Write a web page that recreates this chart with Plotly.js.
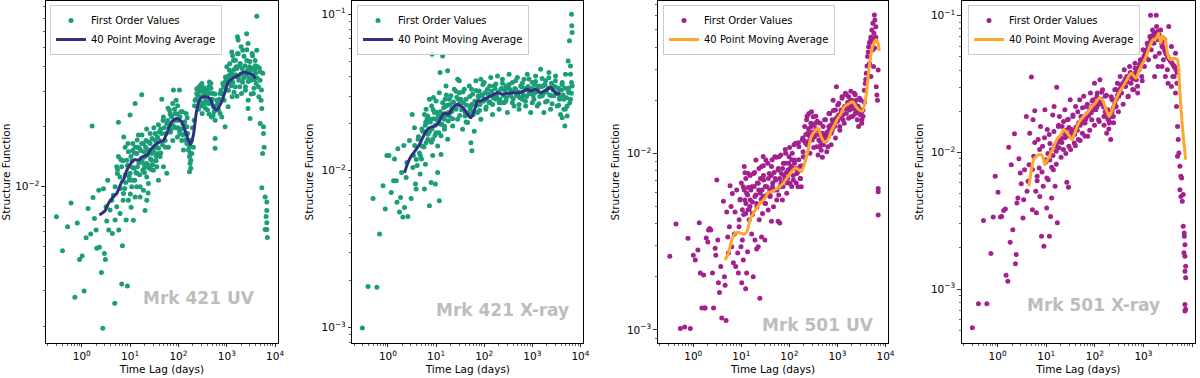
<!DOCTYPE html>
<html>
<head>
<meta charset="utf-8">
<script src="https://cdn.plot.ly/plotly-3.0.1.min.js"></script>
<style>
  html, body { margin: 0; padding: 0; background: #fff; }
  #chart { width: 1200px; height: 378px; }
</style>
</head>
<body>
<div id="chart"></div>
<script>
// ---- Mrk 421 UV ----
const lag421uv = [
  0.30,0.40,0.51,0.60,0.72,0.81,0.90,1.02,1.12,1.23,1.35,1.53,1.64,1.71,1.83,1.98,2.04,2.25,2.32,2.55,
  2.72,2.81,2.94,3.09,3.19,3.29,3.45,3.62,3.86,4.18,4.31,4.52,4.82,4.9,5.3,5.47,5.74,5.83,6.21,6.41,
  6.72,6.94,7.17,7.4,7.76,8.26,8.81,9.24,9.69,10,10.5,11,11.7,12.7,12.7,13.7,14.9,16.1,17.4,18.9,
  20.4,22.1,23.6,25.9,27.9,30.4,35.5,38.6,45.2,49,57.4,67.3,78.8,105,123,149,169,180,204,239,
  304,437,468,574,574,728,924,1000,1268,1660,1720,2570,2750,2750,3030,4170,4170,3850,4520,4900,
  5130,5300,4900,5740,5740,5920,5500,5300,6210,6730,6730,6500,6730,6210,6730,6900,
  4.9,5.3,5.74,6.2,6.7,7.3,7.9,8.5,9.2,10,10.8,11.4,11.7,12.1,12.7,13.7,14.2,15.6,16.1,17.4,
  18.3,19.5,20.4,21.4,22.1,23.9,25.1,25.9,28.1,29.4,31.4,32.9,34.5,35.6,36.8,38.6,40.4,41.8,
  13.7,16.1,18.9,22.1,23.9,
  45.2,49,53,57.4,62.1,65.2,69.3,72.8,76.4,81.3,85.3,89.5,95.3,100,105,112,117,123,127,137,144,149,
  161,169,174,180,189,169,
  211,221,239,259,272,290,309,329,351,373,398,424,452,482,513,530,574,621,673,728,
  788,826,881,938,1000,1066,1135,1210,1289,1374,1374,
  1487,1560,1663,1771,1888,2011,2143,2284,2434,2594,2764,2945,3138,3344,3565,3795,4045,4310,4592,4893,5214,5556
];
const sf421uv = [
  0.00708,0.00477,0.0063,0.0083,0.00279,0.00659,0.00432,0.00449,0.0030,0.00555,0.00779,0.0058,0.0202,0.00884,0.00693,0.00607,0.00491,0.00962,0.00497,0.00371,
  0.00195,0.00977,0.00463,0.00432,0.00794,0.00673,0.0108,0.00607,0.00764,0.00857,0.00583,0.00908,0.0026,0.00681,0.00794,0.01166,0.0211,0.00607,0.00734,0.0137,
  0.00325,0.00506,0.00857,0.0178,0.00981,0.00681,0.00318,0.015,0.0108,0.0229,0.0079,0.0135,0.0068,0.0262,0.0089,0.0117,0.0182,0.01,0.029,0.0131,
  0.0076,0.0112,0.0093,0.0185,0.0136,0.0121,0.0147,0.0108,0.0275,0.0126,0.0117,0.0233,0.0306,0.0306,0.0182,0.02,0.0119,0.0136,0.0158,0.0311,
  0.033,0.0336,0.033,0.0175,0.0156,0.0233,0.02,0.04,0.0475,0.0566,0.0545,0.0587,0.0524,0.0247,0.022,0.0718,0.0485,0.0431,0.0318,0.0378,
  0.0272,0.0247,0.0208,0.02,0.0185,0.0158,0.0147,0.0099,0.0089,0.0084,0.0076,0.0071,0.0066,0.0061,0.0061,0.00557,
  0.01,0.0126,0.0142,0.0112,0.0126,0.00926,0.0158,0.0136,0.00857,0.0117,0.01,0.0165,0.0108,0.0124,0.0158,0.0147,0.0126,0.0156,0.0136,0.0165,
  0.0121,0.015,0.0142,0.0171,0.0131,0.0153,0.0124,0.0165,0.0147,0.0129,0.0158,0.0171,0.0142,0.0126,0.0178,0.0156,0.0189,0.0142,
  0.01,0.0089,0.0096,0.00857,0.0104,
  0.0185,0.0224,0.0171,0.0208,0.0158,0.0243,0.0192,0.0224,0.0171,0.02,0.0233,0.0272,0.0178,0.0216,0.0192,0.0238,0.0171,0.0208,0.0153,0.0185,0.0233,0.0165,
  0.0153,0.0142,0.0131,0.0124,0.0147,0.0158,
  0.0216,0.0272,0.0294,0.0252,0.0318,0.0283,0.0233,0.0306,0.0262,0.0294,0.0243,0.0318,0.0272,0.0224,0.0294,0.0252,0.0216,0.0272,0.0243,0.0294,
  0.0224,0.033,0.0272,0.0356,0.0306,0.0252,0.0385,0.033,0.0283,0.0431,0.0356,
  0.0318,0.04,0.0467,0.0343,0.0416,0.0294,0.0485,0.0371,0.0318,0.0431,0.0272,0.04,0.0343,0.0467,0.0294,0.0385,0.033,0.04,0.0283,0.0343,0.0306,0.0371
];
// denser core of the Mrk 421 UV band
const lag421uvCore = [
  8,8.8,9.6,10.4,11.2,12.2,13.2,14.4,15.2,16.6,18,19,20,21,23,24.5,26.5,28.5,30,33,
  36,39,43,47,51,55,60,64,70,75,83,88,93,98,108,115,130,140,155,165,
  175,185,195,215,230,250,265,285,300,320,340,365,390,415,440,470,500,550,600,650,
  700,760,810,860,910,970,1030,1100,1180,1250,1330,1420,1520,1620,1720,1830,1950,2080,2220,2370,
  2520,2680,2850,3050,3250,3450,3700,3950,4250,4700,
  5.5,6.3,7.1,8.1,9.0,10.1,11.3,12.5,14,15.8,17.6,19.8,22,24.6,27.5,31,34.5,38.5,43,48,
  54,61,68,76,86,96,108,121,135,152,
  1080,1150,1230,1320,1410,1510,1620,1730,1850,1980,2120,2270,2430,2600,2780,2980,3190,3410,3650,3910,
  260,280,300,330,360,395,430,470,520,570
];
const sf421uvCore = [
  0.0115,0.0128,0.0112,0.0142,0.0125,0.0148,0.0118,0.0158,0.0132,0.0152,0.0138,0.0165,0.0125,0.0158,0.0145,0.0168,0.0138,0.0175,0.0152,0.0185,
  0.0158,0.0172,0.0195,0.0162,0.0198,0.0185,0.0215,0.0198,0.0228,0.0205,0.0245,0.0215,0.0232,0.0198,0.0225,0.0195,0.0205,0.0172,0.0185,0.0162,
  0.0148,0.0172,0.0198,0.0255,0.0275,0.0288,0.0268,0.0302,0.0265,0.0285,0.0298,0.027,0.0285,0.0262,0.0295,0.0262,0.0275,0.0238,0.0255,0.0262,
  0.0275,0.0305,0.0292,0.0318,0.0335,0.0345,0.0332,0.0362,0.0345,0.0372,0.0335,0.0388,0.0365,0.0392,0.0355,0.0405,0.0368,0.0392,0.0352,0.0405,
  0.0365,0.0385,0.0352,0.0378,0.0395,0.0362,0.0345,0.0372,0.0352,0.0395,
  0.0122,0.0098,0.0135,0.0105,0.0165,0.0092,0.0152,0.0108,0.0172,0.0115,0.0182,0.0118,0.0195,0.0128,0.0122,0.0198,0.0135,0.0205,0.0148,0.0215,
  0.0158,0.0248,0.0188,0.0262,0.0198,0.0255,0.0185,0.0238,0.0212,0.0222,
  0.0305,0.0415,0.0322,0.0455,0.0298,0.0432,0.0285,0.0465,0.0318,0.0505,0.0335,0.0452,0.0305,0.0488,0.0338,0.0425,0.0292,0.0455,0.0312,0.0405,
  0.0245,0.0322,0.0255,0.0315,0.0248,0.0308,0.0232,0.0312,0.0228,0.0292
];
const maLag421uv = [2.32,3.04,3.56,4.52,5.3,6.72,7.51,8.53,10.8,12.7,14.9,17.4,22.1,28.1,35.6,41.8,49,57.4,72.8,92.4,
  117,137,161,180,204,239,281,356,452,530,621,728,853,1082,1374,1742,2213,2805,3565,3855];
const ma421uv = [0.00721,0.00758,0.00825,0.00891,0.00927,0.0106,0.011,0.0121,0.0133,0.0137,0.0136,0.0141,0.0144,0.0156,0.0165,0.0168,0.0171,0.0185,0.0212,0.022,
  0.0212,0.0192,0.0171,0.0163,0.0182,0.0243,0.0277,0.0283,0.0277,0.0252,0.0243,0.0257,0.0283,0.0336,0.0353,0.0363,0.0377,0.0371,0.0363,0.0349];

// ---- Mrk 421 X-ray ----
const lag421x = [
  0.294,0.386,0.59,0.49,0.67,0.79,0.88,0.95,1.05,1.17,1.31,1.37,1.49,1.54,1.61,1.74,1.83,1.92,2.04,2.14,
  2.21,2.39,2.47,2.59,2.81,3.04,3.19,3.4,3.56,3.73,3.86,4.05,4.24,4.52,4.67,4.97,5.3,5.74,6.01,6.21,
  6.72,7.28,7.88,8.26,8.53,8.81,9.69,10,10.8,11.4,11.7,12.1,12.7,13.7,14.9,16.1,17.4,18.9,28.1,30.4,
  53,55.6,85.3,4180,4740,5560,5920,6210,6510,6600,6730,6210,6510,
  5.74,6.21,6.72,7.28,7.88,8.53,9.24,10,10.8,11.7,12.7,13.7,14.9,16.1,17.4,18.9,20.4,22.1,23.9,25.9,
  28.1,30.4,32.9,35.6,38.6,41.8,45.2,49,53,57.4,62.1,67.3,72.8,78.8,85.3,92.4,
  100,108,117,127,137,149,161,174,189,204,221,239,259,281,304,329,356,386,418,452,490,530,574,621,
  673,728,788,853,924,1000,1082,1172,1268,1374,1487,1610,1742,1888,2042,2213,2394,2594,2805,3040,
  3290,3565,3855,4180,4520,4900,5300,5740,6210,6730,5300,4520,
  103,154,228,339,505,752,1114,1660,2470,3680,75,55,40,29,21,15.4,11.1,8.1,6.5,5.1
];
const sf421x = [
  0.00099,0.00182,0.0018,0.00665,0.00394,0.00802,0.00569,0.0125,0.0125,0.00727,0.00863,0.0119,0.00863,0.0063,0.0138,0.00545,0.00675,0.00976,0.00506,0.0145,
  0.00582,0.00906,0.0113,0.0051,0.0156,0.00665,0.0229,0.0125,0.0188,0.00822,0.00764,0.0108,0.0159,0.013,0.00953,0.0119,0.0179,0.00764,0.011,0.0151,
  0.0224,0.00597,0.00842,0.0555,0.0125,0.0293,0.00822,0.0175,0.00976,0.0235,0.00643,0.0424,0.0127,0.0541,0.0184,0.0259,0.0435,0.0286,0.0384,0.0375,
  0.0151,0.0134,0.0384,0.0218,0.0193,0.0502,0.0675,0.0467,0.1,0.0842,0.0764,0.0413,0.0366,
  0.0229,0.0247,0.0171,0.0286,0.0213,0.0159,0.0235,0.0279,0.0144,0.0315,0.0167,0.0272,0.0213,0.0348,0.0159,0.0224,0.0301,0.0193,0.0331,0.0247,
  0.0213,0.0315,0.0286,0.0184,0.0331,0.0286,0.0203,0.0348,0.0259,0.0308,0.0179,0.0375,0.0235,0.0323,0.0213,0.0301,
  0.0366,0.0247,0.0331,0.0272,0.0394,0.0229,0.0348,0.0286,0.0403,0.0247,0.0331,0.0384,0.0272,0.0348,0.0235,0.0413,0.0301,0.0366,0.0259,0.0331,0.0394,0.0247,0.0348,0.0286,
  0.0384,0.0259,0.0413,0.0315,0.0235,0.0366,0.0286,0.0403,0.0259,0.0348,0.0445,0.0301,0.0235,0.0375,0.0279,0.0424,0.0247,0.0348,0.0301,0.0403,
  0.0259,0.0331,0.0229,0.0366,0.0286,0.0413,0.0259,0.0315,0.0286,0.0348,0.0224,0.0247,
  0.0286,0.0301,0.0272,0.0331,0.0301,0.0331,0.0315,0.0348,0.0301,0.0286,0.0301,0.0331,0.0224,0.0286,0.0247,0.0286,0.0224,0.0259,0.0203,0.0144
];
const lag421xCore = [
  6,6.5,7,7.6,8.2,9,9.6,10.4,11.2,12.2,13.2,14.4,15.5,16.8,18,19.6,21,23,24.8,27,
  29,31.5,34,37,40,43,47,51,55,59,64,70,76,82,89,96,104,112,122,132,
  143,155,168,182,196,212,230,248,268,290,315,340,370,400,435,470,510,550,600,650,
  700,760,820,890,960,1040,1120,1220,1320,1430,1550,1680,1820,1970,2130,2310,2500,2700,2930,3170,
  3430,3720,4030,4370,4730,5120,5550,6000,6500,
  3.3,3.6,3.9,4.3,4.7,5.1,5.6,6.1,6.7,7.3,8,8.7,9.5,10.4,11.4,12.5,13.7,15,16.4,18,
  22,26,31,36,42,50,58,68,80,94,110,130,150,175,205,240,280,330,385,450,
  530,620,720,850,1000,1170,1370,1600,1880,2200,2580,3020,3540,4150,4860,5700
];
const sf421xCore = [
  0.0195,0.0215,0.0175,0.0205,0.0185,0.0215,0.0195,0.0235,0.0205,0.0238,0.0198,0.0252,0.0225,0.0262,0.0235,0.0265,0.0238,0.0275,0.0252,0.0295,
  0.0262,0.0278,0.0245,0.0272,0.0238,0.0262,0.0232,0.0248,0.0265,0.0228,0.0278,0.0262,0.0295,0.0265,0.0305,0.0278,0.0315,0.0285,0.0308,0.0275,
  0.0322,0.0292,0.0335,0.0298,0.0318,0.0285,0.0335,0.0302,0.0325,0.0292,0.0338,0.0305,0.0322,0.0288,0.0335,0.0302,0.0318,0.0292,0.0342,0.0305,
  0.0335,0.0298,0.0345,0.031,0.0335,0.0302,0.0352,0.0318,0.0335,0.0298,0.0345,0.031,0.0355,0.0318,0.0338,0.0305,0.0362,0.0328,0.0345,0.0312,
  0.0338,0.0295,0.0328,0.0305,0.0338,0.0292,0.0325,0.0272,0.0312,
  0.0105,0.0145,0.0118,0.0165,0.0125,0.0185,0.0142,0.0205,0.0158,0.0178,0.0152,0.0245,0.0168,0.0212,0.0175,0.0198,0.0228,0.0192,0.0305,0.0208,
  0.0215,0.0322,0.0225,0.0318,0.0205,0.0298,0.0238,0.0325,0.0242,0.0355,0.0255,0.0348,0.0265,0.0358,0.0272,0.0362,0.0278,0.0355,0.0272,0.0375,
  0.0265,0.0362,0.0278,0.0385,0.0272,0.0372,0.0268,0.0388,0.0275,0.0392,0.0268,0.0375,0.0262,0.0355,0.0248,0.0338
];
const maLag421x = [2.21,2.59,3.04,3.86,4.52,5.3,6.21,7.28,9.24,10.8,12.7,14.9,17.4,20.4,23.9,28.1,32.9,38.6,45.2,53,
  62.1,72.8,85.3,108,137,161,189,239,304,386,530,673,788,924,1172,1487,1742,2042,2394,2805,3290,3855];
const ma421x = [0.0097,0.0112,0.0124,0.0137,0.0147,0.0163,0.0179,0.0188,0.0193,0.0198,0.0218,0.0235,0.0229,0.0241,0.0259,0.0266,0.0259,0.0247,0.0229,0.0218,
  0.0241,0.0279,0.0279,0.0289,0.0301,0.0308,0.0315,0.0308,0.0312,0.0315,0.0315,0.0323,0.0331,0.0323,0.0331,0.0315,0.0323,0.0331,0.034,0.0323,0.0308,0.0315];

// ---- Mrk 501 UV ----
const lag501uv = [
  0.324,0.438,0.776,0.538,0.662,0.867,1.0,1.1,1.25,1.33,1.4,1.51,1.64,1.72,1.77,1.86,2.01,2.08,2.18,2.32,
  2.51,2.64,2.85,2.94,3.09,3.24,3.34,3.51,3.73,3.92,4.24,4.45,4.59,4.82,4.97,5.21,5.38,5.65,5.83,6.11,
  6.31,6.51,6.83,7.17,7.39,7.64,8.0,8.4,8.67,8.95,9.38,9.84,10.2,10.5,11,11.5,11.9,12.3,12.9,13.5,
  14,15.1,16.4,17.7,19.2,20.8,22.5,24.3,26.4,28.5,28.5,30.9,42.4,58.3,63.1,7050,7050,7050,
  11.0,11.9,12.3,12.9,14.0,14.6,15.4,16.4,17.1,18.0,19.2,20.1,21.1,22.5,23.6,24.7,26.4,27.6,29.0,30.9,
  32.4,34.0,36.2,37.9,39.8,42.4,44.5,46.7,49.7,52.1,54.7,58.3,61.1,64.1,68.3,71.6,75.2,80.0,84.0,88.1,93.8,98.4,103,110,
  115,121,129,135,142,151,158,166,177,186,195,208,218,228,243,255,268,285,299,314,334,351,368,392,
  411,431,459,482,505,538,565,592,631,662,694,740,776,813,867,910,953,1016,1066,1117,1191,1250,1310,1396,
  1466,1535,1637,1714,1799,1919,2011,2109,2249,2355,2472,2636,2761,2897,3090,3236,3396,3622,3793,3981,
  4246,4446,4667,4977,5212,5470,5741,6012,6310,5880,5383,5649,4977,6412,6622,6823,7047
];
const sf501uv = [
  0.00261,0.00398,0.00331,0.00102,0.00104,0.00102,0.00265,0.00249,0.00284,0.00405,0.0021,0.00133,0.00205,0.00133,0.00133,0.00332,0.00315,0.00368,0.00375,0.00368,
  0.0021,0.00133,0.0029,0.00265,0.00706,0.00323,0.00185,0.00163,0.00229,0.00117,0.00535,0.002,0.00179,0.00113,0.00466,0.00336,0.00273,0.00384,0.00656,0.005,
  0.00296,0.00593,0.0024,0.00349,0.00466,0.00229,0.0062,0.00273,0.0021,0.00384,0.00544,0.00296,0.00185,0.00323,0.00249,0.00841,0.00776,0.00171,0.0021,0.00277,
  0.0064,0.005,0.00349,0.002,0.00323,0.00287,0.00296,0.00151,0.00336,0.0096,0.00569,0.00323,0.00412,0.00412,0.00403,0.00633,0.00606,0.00448,
  0.00647,0.00544,0.00457,0.00594,0.0077,0.0042,0.00544,0.00647,0.00457,0.0077,0.00569,0.00917,0.00499,0.00676,0.0042,0.00594,0.00841,0.00457,0.00706,0.00521,
  0.00917,0.00647,0.00478,0.0077,0.00569,0.00841,0.00647,0.00499,0.00957,0.00706,0.00544,0.00805,0.00957,0.00647,0.0077,0.00544,0.00878,0.00706,0.01,0.00594,0.00805,0.00957,0.00676,0.00841,
  0.01,0.00706,0.00917,0.0114,0.0077,0.00647,0.0109,0.00841,0.00647,0.0119,0.00957,0.0142,0.0114,0.0155,0.013,0.0168,0.01,0.0142,0.0119,0.0161,0.0124,0.0148,0.0109,0.0136,
  0.0119,0.0109,0.0104,0.013,0.0142,0.0119,0.0155,0.013,0.0109,0.0142,0.0168,0.013,0.0155,0.02,0.0142,0.0176,0.0238,0.0161,0.0192,0.0142,0.0176,0.0209,0.0155,0.0184,
  0.0219,0.0168,0.0192,0.0209,0.0176,0.0161,0.02,0.0184,0.0219,0.0168,0.02,0.0184,0.0142,0.0168,0.02,0.0155,0.0176,0.0228,0.0249,0.0284,
  0.0353,0.0402,0.0323,0.0438,0.0499,0.0545,0.0478,0.0569,0.0521,0.0607,0.0385,0.031,0.0272,0.0238,0.0214,0.02,0.0296
];
const lag501uvCore = [
  9.5,10.5,11.5,12.5,13.5,14.5,15.8,17,18.5,20,21.5,23,25,27,29,31.5,34,36.5,39,42,
  45,48,51,55,59,63,67,72,77,82,87,92,97,104,112,120,128,137,147,157,
  168,180,192,205,220,235,250,265,280,300,320,340,360,380,405,430,455,480,510,540,
  575,610,650,690,735,780,830,880,940,1000,1060,1130,1200,1280,1360,1450,1540,1640,1740,1850,
  1970,2100,2230,2370,2520,2680,2850,3030,3220,3420,3640,3880,4120,4380,4650,4950,5260,5600,5950,6300,
  9,10,11.2,12.4,13.8,15.3,17,18.9,21,23.3,25.9,28.8,32,35.5,39.4,43.8,48.6,54,60,66.6,
  74,82,91,101,112,125,139,154,171,190,211,234,260,289,321,356,395,439,487,541,
  600,667,740,822,912,1013,1125,1249,1387,1540,1710,1899,2108,2341,2600,2887,3206
];
const sf501uvCore = [
  0.0055,0.0048,0.0062,0.0052,0.0058,0.0048,0.0062,0.0053,0.0065,0.0058,0.0068,0.0062,0.0072,0.0062,0.0075,0.0065,0.0058,0.0072,0.0062,0.0075,
  0.0068,0.0078,0.0072,0.0062,0.0082,0.0072,0.0068,0.0082,0.0075,0.0088,0.0078,0.0072,0.0088,0.0082,0.0092,0.0075,0.0088,0.0082,0.0078,0.0092,
  0.0072,0.0085,0.0102,0.0118,0.0128,0.0112,0.0138,0.0125,0.0148,0.0132,0.0145,0.0128,0.0138,0.0152,0.0128,0.0118,0.0112,0.0122,0.0112,0.0125,
  0.0118,0.0132,0.0125,0.0138,0.0145,0.0135,0.0152,0.0148,0.0158,0.0152,0.0165,0.0158,0.0172,0.0165,0.0178,0.0185,0.0178,0.0195,0.0185,0.0198,
  0.0188,0.0195,0.0178,0.0188,0.0172,0.0185,0.0178,0.0165,0.0172,0.0162,0.0195,0.0262,0.0312,0.0375,0.0425,0.0455,0.0425,0.0448,0.0395,0.0455,
  0.0042,0.0068,0.0045,0.0072,0.0048,0.0075,0.0045,0.0078,0.0052,0.0082,0.0055,0.0085,0.0052,0.0088,0.0058,0.0092,0.0062,0.0095,0.0058,0.0098,
  0.0065,0.0105,0.0068,0.0108,0.0065,0.0112,0.0068,0.0115,0.0072,0.0122,0.0095,0.0162,0.0118,0.0172,0.0108,0.0162,0.0098,0.0148,0.0095,0.0155,
  0.0102,0.0168,0.0112,0.0175,0.0122,0.0188,0.0135,0.0205,0.0148,0.0215,0.0158,0.0225,0.0162,0.0215,0.0155,0.0205,0.0148
];
const maLag501uv = [4.59,5.38,6.31,7.39,8.67,10.2,11.9,13.5,15.1,17.7,20.8,24.3,30.9,36.2,42.4,49.7,63.1,73.9,93.8,119,
  140,177,208,243,285,334,392,459,538,631,740,867,1016,1191,1396,1771,2076,2434,2851,3342,3917,4592,5383,6310,7050,7400];
const ma501uv = [0.00249,0.00272,0.00323,0.00352,0.00356,0.00352,0.00349,0.00368,0.0042,0.00457,0.00489,0.00521,0.00556,0.00598,0.00607,0.0062,0.00647,0.00676,0.00738,0.00805,
  0.00823,0.00787,0.00878,0.0104,0.0124,0.0133,0.0139,0.0124,0.0116,0.0119,0.0133,0.0145,0.0158,0.0168,0.0184,0.0192,0.0196,0.0184,0.0176,0.0174,0.0209,0.031,0.0402,0.0438,0.042,0.038];

// ---- Mrk 501 X-ray ----
const lag501x = [
  0.302,0.402,0.6,0.511,0.726,0.81,0.89,1.02,1.14,1.21,1.33,1.44,1.49,1.62,1.69,1.81,1.9,2.05,2.22,2.33,
  2.41,2.49,2.61,2.74,2.92,3.06,3.32,3.43,3.59,3.89,4.02,4.22,4.43,4.57,4.95,5.19,5.36,5.53,5.81,6.09,
  6.29,6.5,6.81,7.15,7.38,7.62,8.0,8.39,8.66,8.94,9.38,9.84,10.2,10.5,11,11.6,11.9,12.3,12.9,13.6,
  14,14.5,15.2,15.9,16.4,16.9,17.8,26.5,28.7,
  4285,4570,4790,5025,5190,5360,5025,5620,5900,6090,5620,5900,6290,6590,6590,6920,6920,7140,6810,7140,
  7380,7140,7380,7140,7380,7140,
  18.7,19.9,21.2,22.6,24.1,25.7,27.4,29.2,31.1,33.2,35.4,37.7,40.2,42.9,45.7,48.7,51.9,55.3,59.0,62.9,67.0,71.5,76.2,81.2,
  86.6,92.3,98.4,105,112,119,127,136,144,154,164,175,187,199,212,226,241,257,274,292,311,332,354,377,402,
  429,457,487,519,553,590,629,670,714,762,812,866,923,984,1049,1118,1192,1271,1355,1444,1540,1641,1750,1866,1989,2120,2260,2409,
  2568,2738,2918,3111,3316,3536,3770,4019,4285,4568,4870,3770,3213,2827,2409,1989,1695,1400,1836
];
const sf501x = [
  0.00052,0.00078,0.00078,0.00317,0.00182,0.00337,0.00668,0.0051,0.00337,0.0034,0.00376,0.00385,0.00126,0.00114,0.0109,0.0022,0.00813,0.00272,0.0137,0.00153,
  0.00179,0.00427,0.00464,0.00899,0.00706,0.0059,0.00331,0.00451,0.00747,0.0183,0.00519,0.00614,0.00813,0.0138,0.0356,0.00381,0.0173,0.00935,0.0202,0.00519,
  0.00361,0.00668,0.0124,0.00769,0.00476,0.0155,0.00243,0.0111,0.00565,0.00206,0.0205,0.00884,0.00392,0.0147,0.00631,0.00243,0.0116,0.0034,0.00464,0.0188,
  0.00747,0.0217,0.00565,0.0111,0.03,0.00305,0.0155,0.00604,0.00555,
  0.0359,0.0272,0.0217,0.0155,0.0124,0.0099,0.00935,0.0079,0.00668,0.0065,0.00533,0.00476,0.00438,0.00491,0.00288,0.00257,0.00243,0.00211,0.00184,0.00174,
  0.00147,0.00135,0.00121,0.00077,0.00071,0.00069,
  0.0183,0.0124,0.0155,0.0105,0.0205,0.0131,0.0173,0.0111,0.0243,0.0147,0.0183,0.0117,0.0217,0.0155,0.0124,0.0243,0.0183,0.0138,0.0257,0.0164,0.0217,0.0131,0.0194,0.0272,
  0.0173,0.0243,0.0321,0.0205,0.0272,0.0173,0.034,0.023,0.0287,0.0183,0.0257,0.0138,0.0205,0.0164,0.0124,0.0243,0.0183,0.0287,0.0217,0.0321,0.0257,0.0359,0.0272,0.0321,0.0402,
  0.0303,0.0359,0.0257,0.0426,0.0321,0.0359,0.0287,0.045,0.034,0.0272,0.0402,0.0476,0.0359,0.0563,0.0426,0.0504,0.063,0.0476,0.0705,0.0563,0.0788,0.063,0.0504,0.0834,0.0666,0.0532,0.0788,0.0596,
  0.0476,0.0666,0.0532,0.0402,0.0834,0.0476,0.0596,0.0359,0.0426,0.0532,0.0321,0.0303,0.0321,0.0359,0.0426,0.0426,0.0359,0.101,0.101
];
const lag501xCore = [
  9.8,10.8,11.8,12.8,13.8,15,16,17.2,18.4,19.6,21,22.4,24,25.6,27.4,29.3,31.3,33.5,35.8,38.2,
  40.8,43.6,46.6,49.8,53.2,56.8,60.7,64.8,69.2,74,79,84.4,90,96,103,110,117,125,134,143,
  152,163,174,186,198,212,226,241,258,275,294,314,335,358,382,408,436,465,497,530,
  566,605,646,690,737,787,840,897,958,1023,1092,1166,1245,1330,1420,1516,1619,1729,1846,1971,
  2105,2248,2400,2563,2737,2923,3121,3333,3559,3800,4058,4333,4627,4941,
  5.2,5.8,6.5,7.3,8.2,9.2,10.3,11.5,12.9,14.4,16.1,18,20.2,22.6,25.3,28.3,31.7,35.5,39.7,44.5,
  49.8,55.8,62.5,70,78.4,87.8,98.3,110,123,138,155,173,194,217,243,272,305,341,382,428,
  479,537,601,673,754,844,945
];
const sf501xCore = [
  0.0085,0.0098,0.0088,0.0105,0.0095,0.0112,0.0102,0.0118,0.0108,0.0128,0.0118,0.0138,0.0128,0.0145,0.0132,0.0152,0.0138,0.0128,0.0142,0.0135,
  0.0152,0.0145,0.0165,0.0158,0.0172,0.0165,0.0182,0.0175,0.0192,0.0185,0.0205,0.0195,0.0218,0.0205,0.0228,0.0215,0.0238,0.0225,0.0245,0.0232,
  0.0215,0.0198,0.0185,0.0175,0.0168,0.0182,0.0198,0.0212,0.0228,0.0245,0.0262,0.0275,0.0292,0.0305,0.0318,0.0332,0.0345,0.0328,0.0355,0.0372,
  0.0362,0.0345,0.0365,0.0382,0.0398,0.0412,0.0432,0.0455,0.0478,0.0505,0.0535,0.0562,0.0595,0.0635,0.0672,0.0705,0.0735,0.0752,0.0712,0.0768,
  0.0725,0.0668,0.0625,0.0585,0.0555,0.0528,0.0502,0.0485,0.0468,0.0455,0.0438,0.0425,0.0405,0.0385,
  0.0075,0.0118,0.0062,0.0105,0.0072,0.0128,0.0065,0.0135,0.0078,0.0142,0.0082,0.0158,0.0092,0.0168,0.0098,0.0175,0.0105,0.0188,0.0112,0.0198,
  0.0122,0.0212,0.0132,0.0225,0.0145,0.0238,0.0158,0.0255,0.0168,0.0275,0.0158,0.0262,0.0148,0.0255,0.0165,0.0288,0.0198,0.0312,0.0225,0.0345,
  0.0255,0.0385,0.0288,0.0412,0.0305,0.0445,0.0335
];
const maLag501x = [4.43,4.95,5.53,6.29,7.15,8.0,8.66,9.38,10.2,11.6,12.9,14.5,16.4,18.7,20.9,22.6,25.7,28.7,33.7,39.5,
  46.4,54.5,69.2,87.9,103,121,142,167,196,230,270,343,436,553,703,826,968,1137,1334,1564,
  1836,2055,2260,2529,2827,3213,3653,4285,5025,5534,6090,6700,7380];
const ma501x = [0.00565,0.00747,0.00894,0.00935,0.00962,0.00962,0.0091,0.00813,0.00859,0.00935,0.0102,0.0111,0.0124,0.0131,0.0138,0.0147,0.0142,0.0135,0.0124,0.0142,
  0.0164,0.0178,0.0194,0.0217,0.023,0.0249,0.0243,0.0211,0.0183,0.0205,0.0243,0.0287,0.033,0.038,0.0349,0.0402,0.045,0.0504,0.0596,0.0666,
  0.0685,0.0745,0.063,0.0705,0.0666,0.0504,0.0476,0.0489,0.0476,0.0303,0.0183,0.0124,0.00884];

const panelNames = ['Mrk 421 UV', 'Mrk 421 X-ray', 'Mrk 501 UV', 'Mrk 501 X-ray'];
const xTickVals = [1, 10, 100, 1000, 10000];
const xTickText = ['10<sup>0</sup>', '10<sup>1</sup>', '10<sup>2</sup>', '10<sup>3</sup>', '10<sup>4</sup>'];

const GREEN = '#1b9e77';
const NAVY = '#332f80';
const PURPLE = '#a3208f';
const ORANGE = '#ffa62b';
const FONT = 'DejaVu Sans, Liberation Sans, sans-serif';

function minorTicks(lo, hi) {
  const out = [];
  for (let e = lo; e <= hi; e++) {
    for (let d = 2; d <= 9; d++) out.push(d * Math.pow(10, e));
  }
  return out;
}

function supLabel(v) {
  const p = Math.round(Math.log10(v));
  return '10<sup>' + (p < 0 ? '\u2212' + (-p) : p) + '</sup>';
}

function makePanel(i, lag, sf, maLag, ma, dotColor, lineColor) {
  const suffix = i === 1 ? '' : String(i);
  return [
    {
      x: lag, y: sf,
      type: 'scatter', mode: 'markers',
      name: 'First Order Values',
      marker: { color: dotColor, size: 5 },
      xaxis: 'x' + suffix, yaxis: 'y' + suffix,
      legend: 'legend' + suffix
    },
    {
      x: maLag, y: ma,
      type: 'scatter', mode: 'lines',
      name: '40 Point Moving Average',
      line: { color: lineColor, width: 3, shape: 'spline', smoothing: 0.6 },
      xaxis: 'x' + suffix, yaxis: 'y' + suffix,
      legend: 'legend' + suffix
    }
  ];
}

const data = [].concat(
  makePanel(1, lag421uv.concat(lag421uvCore), sf421uv.concat(sf421uvCore), maLag421uv, ma421uv, GREEN, NAVY),
  makePanel(2, lag421x.concat(lag421xCore), sf421x.concat(sf421xCore), maLag421x, ma421x, GREEN, NAVY),
  makePanel(3, lag501uv.concat(lag501uvCore), sf501uv.concat(sf501uvCore), maLag501uv, ma501uv, PURPLE, ORANGE),
  makePanel(4, lag501x.concat(lag501xCore), sf501x.concat(sf501xCore), maLag501x, ma501x, PURPLE, ORANGE)
);

// axes boxes in paper fractions and y ranges (log10)
const xDomains = [[0.0383, 0.2317], [0.2936, 0.4861], [0.5481, 0.7403], [0.8014, 0.9958]];
const yRanges = [[-2.784, -1.068], [-3.10, -0.917], [-3.074, -1.138], [-3.395, -0.893]];
const yMajor = [[0.01], [0.001, 0.01, 0.1], [0.001, 0.01], [0.001, 0.01, 0.1]];
const yMinorSpan = [[-3, -2], [-4, -1], [-4, -2], [-4, -1]];
const labelPos = [[199, 298], [502, 310], [818, 325], [1093, 305]];
const legendLeft = [50, 357, 663, 968];

const layout = {
  width: 1200, height: 378,
  margin: { l: 0, r: 0, t: 0, b: 0 },
  paper_bgcolor: '#ffffff',
  plot_bgcolor: '#ffffff',
  font: { family: FONT, size: 10, color: '#000' },
  annotations: []
};

for (let k = 0; k < 4; k++) {
  const s = k === 0 ? '' : String(k + 1);
  layout['xaxis' + s] = {
    type: 'log', domain: xDomains[k], range: [-0.74, 4.06],
    anchor: 'y' + s,
    showline: true, mirror: true, linecolor: '#000', linewidth: 1,
    showgrid: false, zeroline: false,
    ticks: 'outside', ticklen: 3.5, tickwidth: 0.8, tickcolor: '#000',
    tickmode: 'array', tickvals: xTickVals, ticktext: xTickText,
    tickfont: { size: 10.5 },
    minor: { ticks: 'outside', ticklen: 2, tickwidth: 0.6, tickcolor: '#000', tickmode: 'array', tickvals: minorTicks(-1, 3), showgrid: false },
    title: { text: 'Time Lag (days)', font: { size: 10.5 }, standoff: 4 }
  };
  layout['yaxis' + s] = {
    type: 'log', domain: [0.0926, 0.997], range: yRanges[k],
    anchor: 'x' + s,
    showline: true, mirror: true, linecolor: '#000', linewidth: 1,
    showgrid: false, zeroline: false,
    ticks: 'outside', ticklen: 3.5, tickwidth: 0.8, tickcolor: '#000',
    tickmode: 'array', tickvals: yMajor[k], ticktext: yMajor[k].map(supLabel),
    tickfont: { size: 10.5 },
    minor: { ticks: 'outside', ticklen: 2, tickwidth: 0.6, tickcolor: '#000', tickmode: 'array', tickvals: minorTicks(yMinorSpan[k][0], yMinorSpan[k][1]), showgrid: false },
    title: { text: 'Structure Function', font: { size: 10.5 }, standoff: 5 }
  };
  layout['legend' + s] = {
    x: legendLeft[k] / 1200, y: 1 - 5 / 378,
    xref: 'paper', yref: 'paper',
    xanchor: 'left', yanchor: 'top',
    bgcolor: 'rgba(255,255,255,0.8)',
    bordercolor: '#cccccc', borderwidth: 1,
    font: { size: 10 },
    itemwidth: 30, tracegroupgap: 0
  };
  layout.annotations.push({
    xref: 'paper', yref: 'paper',
    x: labelPos[k][0] / 1200, y: 1 - labelPos[k][1] / 378,
    xanchor: 'center', yanchor: 'middle',
    text: '<b>' + panelNames[k] + '</b>',
    showarrow: false,
    font: { size: 17, color: '#bdbdbd' }
  });
}

Plotly.newPlot('chart', data, layout, { displayModeBar: false, staticPlot: true });
</script>
</body>
</html>
